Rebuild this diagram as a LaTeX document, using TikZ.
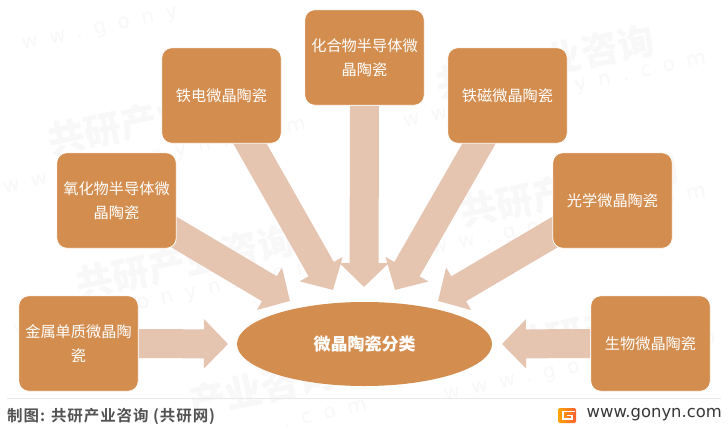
\documentclass[tikz,border=0pt]{standalone}
\usepackage{fontspec}
\setmainfont{Noto Sans CJK SC}
\newfontfamily\latinfont{DejaVu Sans}
\newfontfamily\wmlatin[LetterSpace=60]{DejaVu Sans}
\newfontfamily\creditfont[LetterSpace=6,BoldFont={Noto Sans CJK SC Bold}]{Noto Sans CJK SC}
\usetikzlibrary{arrows.meta,shapes.geometric,positioning}
\pgfdeclarelayer{back}
\pgfsetlayers{back,main}
\definecolor{boxc}{HTML}{D38D4F}
\definecolor{arrc}{HTML}{E5C4B0}
\definecolor{wmc}{HTML}{F8F8F8}
\tikzset{
  catbox/.style={draw=white,line width=0.8pt,fill=boxc,rounded corners=10pt,minimum width=119.5pt,minimum height=95.5pt,
    inner sep=0pt,align=center,text=white,font=\fontsize{15.2}{24}\selectfont},
  hub/.style={ellipse,fill=boxc,minimum width=255pt,minimum height=84pt,inner sep=0pt,text=white,font=\fontsize{17}{20}\selectfont\bfseries},
  fat/.style={draw=arrc,line width=29pt,-{Triangle[length=24pt,width=48pt,fill=arrc]}},
  wmark/.style={text=wmc,font=\fontsize{37}{40}\selectfont\bfseries,rotate=12,inner sep=0pt},
  wurl/.style={text=wmc,font=\fontsize{20}{22}\selectfont\wmlatin,rotate=12,inner sep=0pt},
}
\begin{document}
\begin{tikzpicture}[x=1pt,y=-1pt]
\useasboundingbox (0,0) rectangle (728,431);
% nodes
\node[catbox] (metal) at (78.5,343.5) {金属单质微晶陶\\瓷};
\node[catbox] (bio) at (650.5,343.5) {生物微晶陶瓷};
\node[catbox] (oxy) at (116.5,200.5) {氧化物半导体微\\晶陶瓷};
\node[catbox] (opt) at (612.5,200.5) {光学微晶陶瓷};
\node[catbox] (ferroe) at (221.5,95.5) {铁电微晶陶瓷};
\node[catbox] (ferrom) at (507.5,95.5) {铁磁微晶陶瓷};
\node[catbox] (comp) at (364.5,57.5) {化合物半导体微\\晶陶瓷};
\node[hub] (hub) at (364.5,344) {微晶陶瓷分类};
\coordinate (tmetal) at (228,344);
\coordinate (tbio) at (502,344);
\coordinate (toxy) at (290,301);
\coordinate (topt) at (438,301);
\coordinate (tfe) at (333,290);
\coordinate (tfm) at (395,290);
\coordinate (tcomp) at (364,287);
\begin{pgfonlayer}{back}
  \fill[white] (0,0) rectangle (728,431);
  % watermarks
  \node[wmark] (w1) at (157,118) {共研产业咨询};
  \node[wmark] (w2) at (545,62) {共研产业咨询};
  \node[wmark] (w3) at (569,190) {共研产业咨询};
  \node[wmark] (w4) at (185,262) {共研产业咨询};
  \node[wmark] (w5) at (262,388) {产业咨询};
  \node[wmark] (w6) at (602,328) {共研产业咨};
  \node[wurl] (u1) at (100,30) {ww.gony};
  \node[wurl] (u2) at (155,158) {www.gonyn.com};
  \node[wurl] (u3) at (555,92) {www.gonyn.com};
  \node[wurl] (u4) at (555,225) {www.gonyn.com};
  \node[wurl] (u5) at (165,300) {www.gonyn.com};
  \node[wurl] (u6) at (580,368) {www.gonyn.co};
  \node[wurl] (u7) at (325,414) {.com};
  % connectors
  \draw[fat] (metal.east) -- (tmetal);
  \draw[fat] (bio.west) -- (tbio);
  \draw[fat] ([xshift=-12pt,yshift=-26pt]oxy.east) -- (toxy);
  \draw[fat] ([xshift=12pt,yshift=-26pt]opt.west) -- (topt);
  \draw[fat] ([xshift=20.5pt,yshift=14pt]ferroe.south) -- (tfe);
  \draw[fat] ([xshift=-20.5pt,yshift=14pt]ferrom.south) -- (tfm);
  \draw[fat] (comp.south) -- (tcomp);
\end{pgfonlayer}
% footer
\coordinate (ruleL) at (7,398);
\coordinate (ruleR) at (721,398);
\draw[draw=black!9,line width=0.8pt] (ruleL) -- (ruleR);
\node[anchor=west,inner sep=0pt,text=black!68,font=\fontsize{15.5}{17}\selectfont\creditfont\bfseries] (credit) at (7,416) {制图: 共研产业咨询 (共研网)};
\shade[left color=orange!70!yellow,right color=red!55!orange!80,rounded corners=1.5pt] (558,408) rectangle (576,423);
\draw[white,line width=1.6pt] (575,411.5) -- (563,411.5) -- (563,419) -- (572,419) -- (572,415.5) -- (567,415.5);
\node[anchor=east,inner sep=0pt,text=black!78,font=\fontsize{16.4}{18}\selectfont\latinfont] (url) at (722,415) {www.gonyn.com};
\end{tikzpicture}
\end{document}
